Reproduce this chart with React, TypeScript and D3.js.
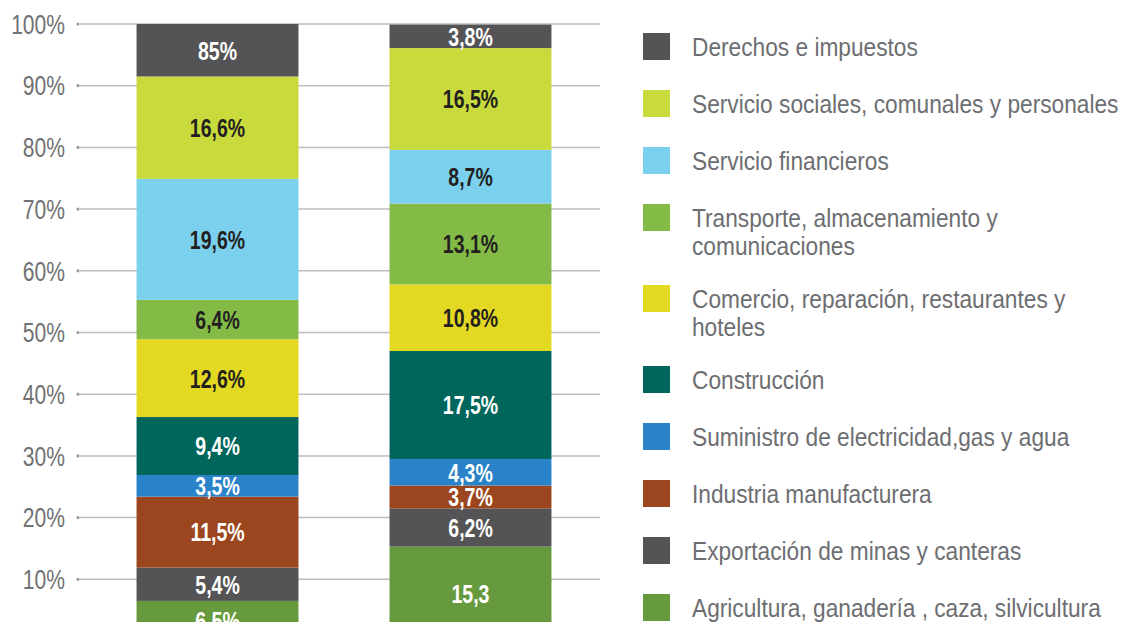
import React from "react";
import * as d3 from "d3";

const categories = ["Periodo 1", "Periodo 2"];
const sectors = [
  "Agricultura, ganadería , caza, silvicultura",
  "Exportación de minas y canteras",
  "Industria manufacturera",
  "Suministro de electricidad,gas y agua",
  "Construcción",
  "Comercio, reparación, restaurantes y hoteles",
  "Transporte, almacenamiento y comunicaciones",
  "Servicio financieros",
  "Servicio sociales, comunales y personales",
  "Derechos e impuestos",
];
const legendLines = [
  ["Agricultura, ganadería , caza, silvicultura"],
  ["Exportación de minas y canteras"],
  ["Industria manufacturera"],
  ["Suministro de electricidad,gas y agua"],
  ["Construcción"],
  ["Comercio, reparación, restaurantes y", "hoteles"],
  ["Transporte, almacenamiento y", "comunicaciones"],
  ["Servicio financieros"],
  ["Servicio sociales, comunales y personales"],
  ["Derechos e impuestos"],
];
const colors = [
  "#679a3e",
  "#545456",
  "#9b461e",
  "#2a83c8",
  "#00665c",
  "#e3d923",
  "#84bb47",
  "#7bd1ed",
  "#c8da3c",
  "#545456",
];
const labelColors = [
  "#ffffff",
  "#ffffff",
  "#ffffff",
  "#ffffff",
  "#ffffff",
  "#231f20",
  "#231f20",
  "#231f20",
  "#231f20",
  "#ffffff",
];
const values1 = [6.5, 5.4, 11.5, 3.5, 9.4, 12.6, 6.4, 19.6, 16.6, 8.5];
const values2 = [15.3, 6.2, 3.7, 4.3, 17.5, 10.8, 13.1, 8.7, 16.5, 3.8];
const labels1 = ["6,5%", "5,4%", "11,5%", "3,5%", "9,4%", "12,6%", "6,4%", "19,6%", "16,6%", "85%"];
const labels2 = ["15,3", "6,2%", "3,7%", "4,3%", "17,5%", "10,8%", "13,1%", "8,7%", "16,5%", "3,8%"];
const yTicks = [10, 20, 30, 40, 50, 60, 70, 80, 90, 100];

const W = 1126;
const H = 622;
const FONT = "'Liberation Sans', Arial, sans-serif";

function NText(props: {
  x: number;
  y: number;
  sx: number;
  size: number;
  anchor?: string;
  weight?: string;
  fill: string;
  children: React.ReactNode;
}) {
  return (
    <g transform={`translate(${props.x},${props.y}) scale(${props.sx},1)`}>
      <text
        x={0}
        y={0}
        dy="0.36em"
        textAnchor={props.anchor || "start"}
        fontFamily={FONT}
        fontWeight={props.weight || "normal"}
        fontSize={props.size}
        fill={props.fill}
      >
        {props.children}
      </text>
    </g>
  );
}

export default function App() {
  const y = d3.scaleLinear().domain([0, 100]).range([641, 24]);
  const x = d3.scaleBand<string>().domain(categories).range([84, 604]).paddingInner(0.36).paddingOuter(0.2077);

  const allValues = [values1, values2];
  const allLabels = [labels1, labels2];
  const table = categories.map((c, j) => {
    const o: any = { cat: c };
    sectors.forEach((s, i) => (o[s] = allValues[j][i]));
    return o;
  });
  const stack = d3.stack<any>().keys(sectors)(table);

  const legendOrder = d3.range(sectors.length).reverse();
  let extra = 0;
  const legendItems = legendOrder.map((si, k) => {
    const top = 33 + 57 * k + extra;
    extra += (legendLines[si].length - 1) * 24;
    return { si, top };
  });

  return (
    <div style={{ position: "absolute", left: 0, top: 0 }}>
      <svg width={W} height={H} style={{ display: "block" }}>
        <rect width={W} height={H} fill="#ffffff" />
        {yTicks.map((t) => (
          <g key={t}>
            <line x1={80} x2={600} y1={y(t)} y2={y(t)} stroke="#bdbdbd" strokeWidth={1.5} />
            <circle cx={78} cy={y(t)} r={1.6} fill="#9a9a9a" />
            <NText x={65} y={y(t)} sx={0.78} size={27} anchor="end" fill="#707172">
              {t}%
            </NText>
          </g>
        ))}
        {stack.map((layer, i) => (
          <g key={layer.key as string}>
            {layer.map((d, j) => {
              const cat = categories[j];
              const y0 = y(d[1]);
              const y1 = y(d[0]);
              return (
                <g key={cat}>
                  <rect x={x(cat)} y={y0} width={x.bandwidth()} height={y1 - y0} fill={colors[i]} />
                  <NText
                    x={(x(cat) as number) + x.bandwidth() / 2}
                    y={(y0 + y1) / 2}
                    sx={0.75}
                    size={26}
                    anchor="middle"
                    weight="bold"
                    fill={labelColors[i]}
                  >
                    {allLabels[j][i]}
                  </NText>
                </g>
              );
            })}
          </g>
        ))}
        {legendItems.map(({ si, top }) => (
          <g key={sectors[si]}>
            <rect x={643} y={top} width={27} height={27} fill={colors[si]} />
            {legendLines[si].map((ln, li) => (
              <NText key={li} x={692} y={top + 13.5 + li * 28} sx={0.887} size={25.6} fill="#6d6e71">
                {ln}
              </NText>
            ))}
          </g>
        ))}
      </svg>
    </div>
  );
}
